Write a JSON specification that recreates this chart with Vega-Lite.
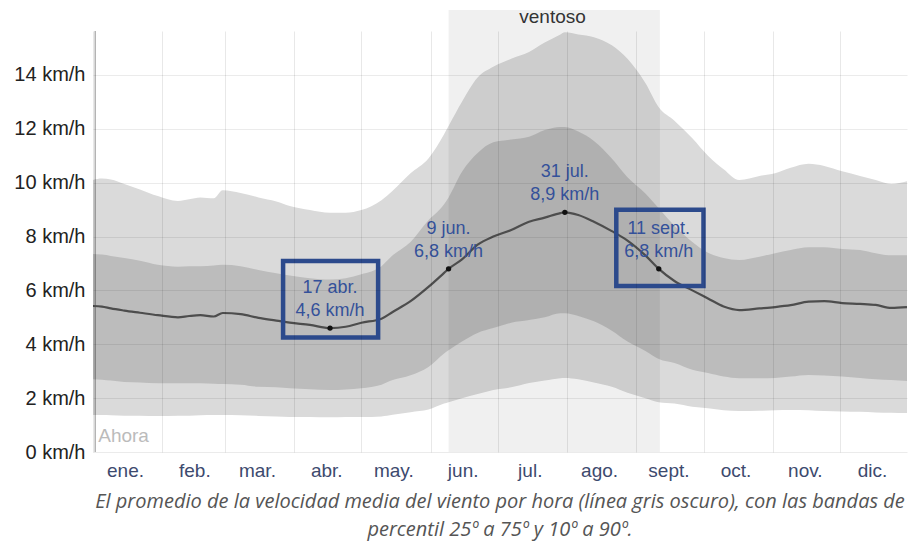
{
  "$schema": "https://vega.github.io/schema/vega-lite/v6.json",
  "width": 814,
  "height": 421,
  "autosize": {"type": "none"},
  "padding": {"left": 93, "top": 31, "right": 7, "bottom": 93},
  "background": "white",
  "config": {"view": {"stroke": null}, "font": "Liberation Sans"},
  "title": {
    "text": ["El promedio de la velocidad media del viento por hora (línea gris oscuro), con las bandas de", "percentil 25º a 75º y 10º a 90º."],
    "orient": "bottom",
    "anchor": "middle",
    "offset": 12,
    "dx": 0,
    "font": "Open Sans",
    "fontStyle": "italic",
    "fontWeight": "normal",
    "fontSize": 20,
    "lineHeight": 28,
    "color": "#555555"
  },
  "datasets": {
    "wind": [
      {"date": "2023-01-01", "p10": 1.37, "p25": 2.70, "mean": 5.42, "p75": 7.35, "p90": 10.10},
      {"date": "2023-01-05", "p10": 1.37, "p25": 2.68, "mean": 5.40, "p75": 7.33, "p90": 10.15},
      {"date": "2023-01-09", "p10": 1.36, "p25": 2.65, "mean": 5.33, "p75": 7.28, "p90": 10.12},
      {"date": "2023-01-15", "p10": 1.35, "p25": 2.60, "mean": 5.25, "p75": 7.20, "p90": 9.95},
      {"date": "2023-01-22", "p10": 1.35, "p25": 2.58, "mean": 5.17, "p75": 7.10, "p90": 9.75},
      {"date": "2023-01-30", "p10": 1.34, "p25": 2.55, "mean": 5.08, "p75": 6.95, "p90": 9.50},
      {"date": "2023-02-08", "p10": 1.35, "p25": 2.55, "mean": 5.00, "p75": 6.88, "p90": 9.32},
      {"date": "2023-02-13", "p10": 1.35, "p25": 2.55, "mean": 5.05, "p75": 6.90, "p90": 9.38},
      {"date": "2023-02-18", "p10": 1.36, "p25": 2.55, "mean": 5.08, "p75": 6.90, "p90": 9.45},
      {"date": "2023-02-24", "p10": 1.37, "p25": 2.53, "mean": 5.03, "p75": 6.92, "p90": 9.42},
      {"date": "2023-02-28", "p10": 1.37, "p25": 2.52, "mean": 5.16, "p75": 6.95, "p90": 9.72},
      {"date": "2023-03-08", "p10": 1.36, "p25": 2.50, "mean": 5.12, "p75": 6.90, "p90": 9.62},
      {"date": "2023-03-16", "p10": 1.34, "p25": 2.42, "mean": 4.98, "p75": 6.76, "p90": 9.45},
      {"date": "2023-03-24", "p10": 1.32, "p25": 2.40, "mean": 4.88, "p75": 6.64, "p90": 9.30},
      {"date": "2023-03-30", "p10": 1.30, "p25": 2.37, "mean": 4.80, "p75": 6.55, "p90": 9.13},
      {"date": "2023-04-08", "p10": 1.30, "p25": 2.33, "mean": 4.72, "p75": 6.45, "p90": 8.98},
      {"date": "2023-04-17", "p10": 1.29, "p25": 2.30, "mean": 4.60, "p75": 6.40, "p90": 8.88},
      {"date": "2023-04-24", "p10": 1.30, "p25": 2.32, "mean": 4.65, "p75": 6.45, "p90": 8.88},
      {"date": "2023-05-01", "p10": 1.30, "p25": 2.37, "mean": 4.80, "p75": 6.60, "p90": 8.98},
      {"date": "2023-05-10", "p10": 1.32, "p25": 2.50, "mean": 4.95, "p75": 6.90, "p90": 9.35},
      {"date": "2023-05-15", "p10": 1.38, "p25": 2.67, "mean": 5.20, "p75": 7.30, "p90": 9.70},
      {"date": "2023-05-23", "p10": 1.48, "p25": 2.85, "mean": 5.60, "p75": 7.80, "p90": 10.35},
      {"date": "2023-05-31", "p10": 1.58, "p25": 3.16, "mean": 6.13, "p75": 8.60, "p90": 10.90},
      {"date": "2023-06-07", "p10": 1.80, "p25": 3.66, "mean": 6.65, "p75": 9.20, "p90": 11.80},
      {"date": "2023-06-09", "p10": 1.85, "p25": 3.78, "mean": 6.80, "p75": 9.45, "p90": 12.10},
      {"date": "2023-06-15", "p10": 2.00, "p25": 4.10, "mean": 7.15, "p75": 10.40, "p90": 13.00},
      {"date": "2023-06-22", "p10": 2.15, "p25": 4.42, "mean": 7.70, "p75": 11.10, "p90": 13.90},
      {"date": "2023-06-29", "p10": 2.30, "p25": 4.60, "mean": 8.00, "p75": 11.50, "p90": 14.30},
      {"date": "2023-07-07", "p10": 2.40, "p25": 4.80, "mean": 8.24, "p75": 11.60, "p90": 14.60},
      {"date": "2023-07-15", "p10": 2.56, "p25": 4.90, "mean": 8.55, "p75": 11.70, "p90": 14.85},
      {"date": "2023-07-22", "p10": 2.65, "p25": 5.00, "mean": 8.70, "p75": 11.95, "p90": 15.20},
      {"date": "2023-07-29", "p10": 2.74, "p25": 5.15, "mean": 8.87, "p75": 12.07, "p90": 15.50},
      {"date": "2023-07-31", "p10": 2.75, "p25": 5.15, "mean": 8.90, "p75": 12.07, "p90": 15.58},
      {"date": "2023-08-06", "p10": 2.70, "p25": 5.05, "mean": 8.80, "p75": 11.90, "p90": 15.50},
      {"date": "2023-08-13", "p10": 2.58, "p25": 4.85, "mean": 8.55, "p75": 11.55, "p90": 15.40},
      {"date": "2023-08-21", "p10": 2.42, "p25": 4.50, "mean": 8.20, "p75": 10.90, "p90": 15.10},
      {"date": "2023-08-28", "p10": 2.20, "p25": 4.10, "mean": 7.85, "p75": 10.20, "p90": 14.60},
      {"date": "2023-09-05", "p10": 2.00, "p25": 3.75, "mean": 7.30, "p75": 9.60, "p90": 13.70},
      {"date": "2023-09-11", "p10": 1.85, "p25": 3.45, "mean": 6.80, "p75": 9.05, "p90": 12.80},
      {"date": "2023-09-18", "p10": 1.80, "p25": 3.30, "mean": 6.35, "p75": 8.40, "p90": 12.30},
      {"date": "2023-09-26", "p10": 1.68, "p25": 3.05, "mean": 6.00, "p75": 7.80, "p90": 11.65},
      {"date": "2023-10-03", "p10": 1.62, "p25": 2.93, "mean": 5.70, "p75": 7.40, "p90": 11.00},
      {"date": "2023-10-10", "p10": 1.55, "p25": 2.80, "mean": 5.40, "p75": 7.20, "p90": 10.50},
      {"date": "2023-10-17", "p10": 1.52, "p25": 2.74, "mean": 5.27, "p75": 7.13, "p90": 10.10},
      {"date": "2023-10-26", "p10": 1.53, "p25": 2.74, "mean": 5.33, "p75": 7.25, "p90": 10.25},
      {"date": "2023-11-02", "p10": 1.55, "p25": 2.75, "mean": 5.38, "p75": 7.38, "p90": 10.35},
      {"date": "2023-11-09", "p10": 1.56, "p25": 2.80, "mean": 5.45, "p75": 7.50, "p90": 10.55},
      {"date": "2023-11-17", "p10": 1.55, "p25": 2.86, "mean": 5.58, "p75": 7.60, "p90": 10.70},
      {"date": "2023-11-24", "p10": 1.52, "p25": 2.84, "mean": 5.60, "p75": 7.60, "p90": 10.62},
      {"date": "2023-12-02", "p10": 1.50, "p25": 2.80, "mean": 5.53, "p75": 7.54, "p90": 10.42},
      {"date": "2023-12-10", "p10": 1.49, "p25": 2.75, "mean": 5.50, "p75": 7.50, "p90": 10.25},
      {"date": "2023-12-17", "p10": 1.47, "p25": 2.70, "mean": 5.46, "p75": 7.38, "p90": 10.10},
      {"date": "2023-12-24", "p10": 1.46, "p25": 2.67, "mean": 5.35, "p75": 7.30, "p90": 9.95},
      {"date": "2023-12-31", "p10": 1.45, "p25": 2.64, "mean": 5.38, "p75": 7.30, "p90": 10.05}
    ],
    "season": [
      {"start": "2023-06-09", "end": "2023-09-11T12:00:00Z", "lo": 0, "hi": 16.41, "mid": "2023-07-25T12:00:00Z", "labelY": 16.15, "label": "ventoso"}
    ],
    "points": [
      {"date": "2023-04-17", "value": 4.6, "line1": "17 abr.", "line2": "4,6 km/h"},
      {"date": "2023-06-09", "value": 6.8, "line1": "9 jun.", "line2": "6,8 km/h"},
      {"date": "2023-07-31", "value": 8.9, "line1": "31 jul.", "line2": "8,9 km/h"},
      {"date": "2023-09-11", "value": 6.8, "line1": "11 sept.", "line2": "6,8 km/h"}
    ],
    "boxes": [
      {"start": "2023-03-27", "end": "2023-05-08T12:00:00Z", "lo": 4.25, "hi": 7.09},
      {"start": "2023-08-23", "end": "2023-10-01", "lo": 6.16, "hi": 8.99}
    ],
    "now": [
      {"date": "2023-01-02", "value": 0.6, "label": "Ahora"}
    ]
  },
  "encoding": {
    "x": {
      "field": "date",
      "type": "temporal",
      "title": null,
      "scale": {
        "type": "utc",
        "domain": [{"year": 2023, "month": 1, "date": 1, "utc": true}, {"year": 2023, "month": 12, "date": 31, "utc": true}]
      },
      "axis": {
        "values": [
          {"year": 2023, "month": 1, "date": 1, "utc": true},
          {"year": 2023, "month": 2, "date": 1, "utc": true},
          {"year": 2023, "month": 3, "date": 1, "utc": true},
          {"year": 2023, "month": 4, "date": 1, "utc": true},
          {"year": 2023, "month": 5, "date": 1, "utc": true},
          {"year": 2023, "month": 6, "date": 1, "utc": true},
          {"year": 2023, "month": 7, "date": 1, "utc": true},
          {"year": 2023, "month": 8, "date": 1, "utc": true},
          {"year": 2023, "month": 9, "date": 1, "utc": true},
          {"year": 2023, "month": 10, "date": 1, "utc": true},
          {"year": 2023, "month": 11, "date": 1, "utc": true},
          {"year": 2023, "month": 12, "date": 1, "utc": true}
        ],
        "labelExpr": "['ene.','feb.','mar.','abr.','may.','jun.','jul.','ago.','sept.','oct.','nov.','dic.'][utcmonth(datum.value)]",
        "labelOffset": 32,
        "labelAlign": "center",
        "labelBaseline": "top",
        "labelPadding": 9,
        "labelFontSize": 19,
        "labelColor": "#3d4a6e",
        "labelFlush": false,
        "labelOverlap": false,
        "ticks": false,
        "domain": false,
        "grid": true,
        "gridColor": "#000000",
        "gridOpacity": 0.09,
        "zindex": 1
      }
    }
  },
  "layer": [
    {
      "data": {"name": "wind"},
      "mark": {"type": "area", "color": "#dadada", "interpolate": "monotone"},
      "encoding": {
        "y": {
          "field": "p90",
          "type": "quantitative",
          "title": null,
          "scale": {"domain": [0, 15.63], "nice": false, "zero": true},
          "axis": {
            "values": [0, 2, 4, 6, 8, 10, 12, 14],
            "labelExpr": "datum.value + ' km/h'",
            "labelFontSize": 20,
            "labelColor": "#222222",
            "labelPadding": 8,
            "ticks": false,
            "domain": false,
            "grid": true,
            "gridColor": "#000000",
            "gridOpacity": 0.08,
            "zindex": 1
          }
        },
        "y2": {"field": "p10"}
      }
    },
    {
      "data": {"name": "wind"},
      "mark": {"type": "area", "color": "#bcbcbc", "interpolate": "monotone"},
      "encoding": {
        "y": {"field": "p75", "type": "quantitative", "title": null},
        "y2": {"field": "p25"}
      }
    },
    {
      "data": {"name": "season"},
      "mark": {"type": "rect", "color": "#000000", "opacity": 0.06},
      "encoding": {
        "x": {"field": "start", "type": "temporal"},
        "x2": {"field": "end"},
        "y": {"field": "hi", "type": "quantitative", "title": null},
        "y2": {"field": "lo"}
      }
    },
    {
      "data": {"name": "now"},
      "mark": {"type": "rule", "color": "#000000", "opacity": 0.3, "strokeWidth": 1.5},
      "encoding": {
        "x": {"field": "date", "type": "temporal"}
      }
    },
    {
      "data": {"name": "wind"},
      "mark": {"type": "line", "color": "#4d4d4d", "strokeWidth": 2.2, "interpolate": "monotone"},
      "encoding": {
        "y": {"field": "mean", "type": "quantitative", "title": null}
      }
    },
    {
      "data": {"name": "boxes"},
      "mark": {"type": "rect", "fill": null, "fillOpacity": 0, "stroke": "#2c4a8c", "strokeWidth": 4.5},
      "encoding": {
        "x": {"field": "start", "type": "temporal"},
        "x2": {"field": "end"},
        "y": {"field": "hi", "type": "quantitative", "title": null},
        "y2": {"field": "lo"}
      }
    },
    {
      "data": {"name": "points"},
      "mark": {"type": "point", "filled": true, "color": "#111111", "size": 28, "opacity": 1},
      "encoding": {
        "y": {"field": "value", "type": "quantitative", "title": null}
      }
    },
    {
      "data": {"name": "points"},
      "mark": {"type": "text", "fontSize": 18, "color": "#34519a", "baseline": "middle", "align": "center", "dy": -40},
      "encoding": {
        "y": {"field": "value", "type": "quantitative", "title": null},
        "text": {"field": "line1"}
      }
    },
    {
      "data": {"name": "points"},
      "mark": {"type": "text", "fontSize": 18, "color": "#34519a", "baseline": "middle", "align": "center", "dy": -17},
      "encoding": {
        "y": {"field": "value", "type": "quantitative", "title": null},
        "text": {"field": "line2"}
      }
    },
    {
      "data": {"name": "season"},
      "mark": {"type": "text", "fontSize": 19, "color": "#333333", "baseline": "middle", "align": "center"},
      "encoding": {
        "x": {"field": "mid", "type": "temporal"},
        "y": {"field": "labelY", "type": "quantitative", "title": null},
        "text": {"field": "label"}
      }
    },
    {
      "data": {"name": "now"},
      "mark": {"type": "text", "fontSize": 19, "color": "#bbbbbb", "baseline": "middle", "align": "left", "dx": 3},
      "encoding": {
        "y": {"field": "value", "type": "quantitative", "title": null},
        "text": {"field": "label"}
      }
    }
  ]
}
